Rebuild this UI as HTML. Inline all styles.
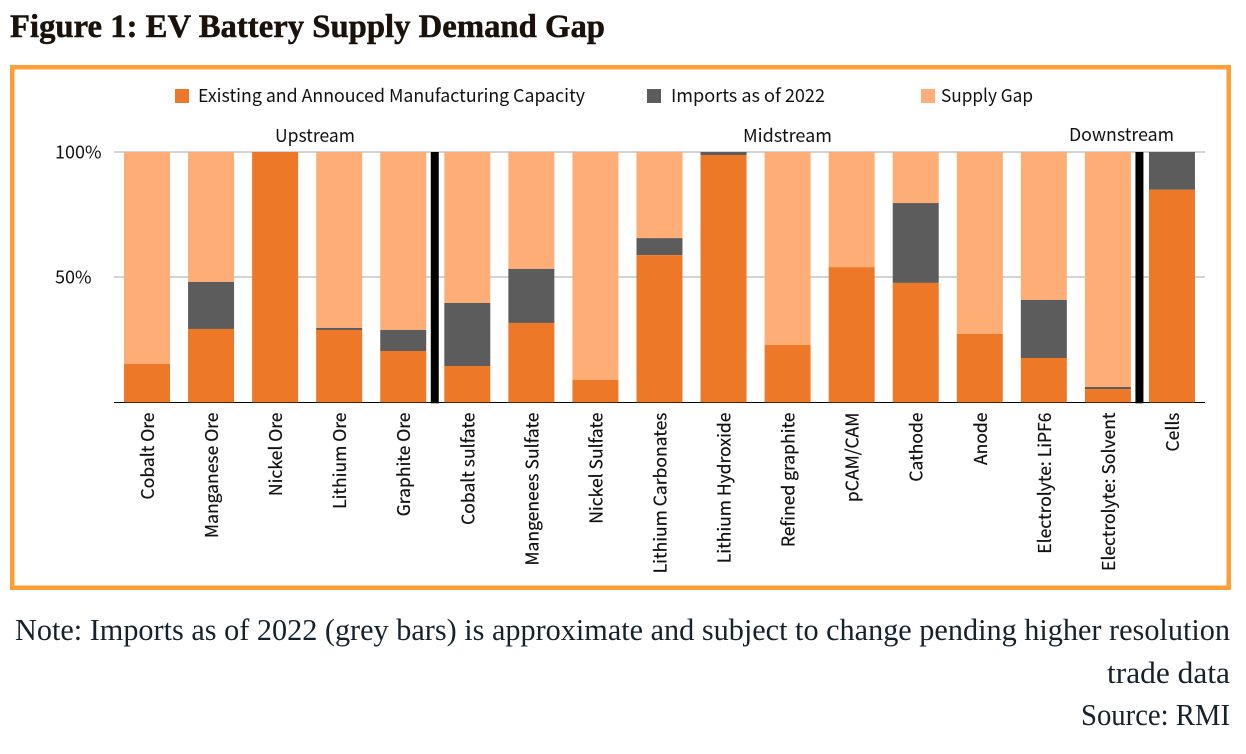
<!DOCTYPE html>
<html lang="en">
<head>
<meta charset="utf-8">
<title>Figure 1: EV Battery Supply Demand Gap</title>
<style>
html,body{margin:0;padding:0;background:#fff;width:1246px;height:754px;overflow:hidden}
svg{display:block}
.ui{font-family:"Noto Sans CJK JP","Liberation Sans",sans-serif;font-size:18px;fill:#111}
.axis-label{font-size:17.5px;stroke:#111;stroke-width:.2px}
.note{font-family:"Liberation Serif",serif;font-size:31px;fill:#16222b}
.title{font-family:"Liberation Serif",serif;font-weight:bold;font-size:33px;fill:#1a120a;stroke:#1a120a;stroke-width:.5px}
</style>
</head>
<body>
<svg id="chart" width="1246" height="754" viewBox="0 0 1246 754" xmlns="http://www.w3.org/2000/svg">
  <text class="title" x="10" y="37" textLength="595" lengthAdjust="spacingAndGlyphs">Figure 1: EV Battery Supply Demand Gap</text>
  <rect x="12.25" y="67.25" width="1216.5" height="520.5" fill="#fff" stroke="#FF9E35" stroke-width="4.5"/>

  <rect x="175" y="89" width="14" height="14" fill="#ED7828"/>
  <text class="ui" x="198" y="102" textLength="387" lengthAdjust="spacingAndGlyphs">Existing and Annouced Manufacturing Capacity</text>
  <rect x="647" y="89" width="14" height="14" fill="#5C5C5C"/>
  <text class="ui" x="671" y="102" textLength="154" lengthAdjust="spacingAndGlyphs">Imports as of 2022</text>
  <rect x="921" y="89" width="14" height="14" fill="#FFAD76"/>
  <text class="ui" x="941" y="102" textLength="92" lengthAdjust="spacingAndGlyphs">Supply Gap</text>

  <text class="ui" x="275" y="142" textLength="80" lengthAdjust="spacingAndGlyphs">Upstream</text>
  <text class="ui" x="743" y="142" textLength="89" lengthAdjust="spacingAndGlyphs">Midstream</text>
  <text class="ui" x="1069" y="141" textLength="105" lengthAdjust="spacingAndGlyphs">Downstream</text>

  <g id="plot"></g>

  <text class="note" x="1230" y="640" text-anchor="end" textLength="1215" lengthAdjust="spacingAndGlyphs">Note: Imports as of 2022 (grey bars) is approximate and subject to change pending higher resolution</text>
  <text class="note" x="1230" y="683" text-anchor="end" textLength="123" lengthAdjust="spacingAndGlyphs">trade data</text>
  <text class="note" x="1230" y="725" text-anchor="end" textLength="149" lengthAdjust="spacingAndGlyphs">Source: RMI</text>
</svg>
<script>
const categories = ["Cobalt Ore","Manganese Ore","Nickel Ore","Lithium Ore","Graphite Ore","Cobalt sulfate","Mangenees Sulfate","Nickel Sulfate","Lithium Carbonates","Lithium Hydroxide","Refined graphite","pCAM/CAM","Cathode","Anode","Electrolyte: LiPF6","Electrolyte: Solvent","Cells"];
const capacity = [15.3,29.3,100,28.9,20.5,14.5,31.7,8.9,58.8,98.8,22.9,54,47.7,27.3,17.7,5.3,84.9];
const imports = [0,18.8,0,0.8,8.4,25.2,21.6,0,6.8,1.2,0,0,31.9,0,23.2,0.8,15.1];
const yTicks = [100,50];
const yTickLabels = ["100%","50%"];
const sectionBreaks = ["Graphite Ore","Electrolyte: Solvent"];

const NS = "http://www.w3.org/2000/svg";
const plot = document.getElementById("plot");
const plotLeft = 114, plotRight = 1205, firstCenter = 147, step = 64.06, barWidth = 46;
const yZero = 402.3, yFull = 152;

function xCenter(i){ return firstCenter + i * step; }
function yScale(v){ return yZero - (yZero - yFull) * v / 100; }
function slug(s){ return s.toLowerCase().replace(/[^a-z0-9]+/g, "-"); }
function make(tag, attrs, text){
  const el = document.createElementNS(NS, tag);
  for (const k in attrs) el.setAttribute(k, attrs[k]);
  if (text !== undefined) el.textContent = text;
  plot.appendChild(el);
  return el;
}

yTicks.forEach(function(t, i){
  const y = yScale(t);
  const grid = make("line", {x1: plotLeft, x2: plotRight, y1: y, y2: y, stroke: "#A8A8A8", "stroke-width": 1, "shape-rendering": "crispEdges"});
  
  
  const lab = make("text", {x: 55, y: y + 6.5, "class": "ui"}, yTickLabels[i]);
  
  
});

const axis = make("line", {x1: plotLeft, x2: plotRight, y1: yZero, y2: yZero, stroke: "#000", "stroke-width": 1, "shape-rendering": "crispEdges"});



categories.forEach(function(cat, i){
  const x = xCenter(i) - barWidth / 2;
  const cap = capacity[i];
  const imp = imports[i];
  const top = cap + imp;

  const gapBar = make("rect", {x: x, width: barWidth, y: yScale(100), height: yScale(top) - yScale(100), fill: "#FFAD76"});
  
  

  const impBar = make("rect", {x: x, width: barWidth, y: yScale(top), height: yScale(cap) - yScale(top), fill: "#5C5C5C"});
  
  

  const capBar = make("rect", {x: x, width: barWidth, y: yScale(cap), height: yScale(0) - yScale(cap), fill: "#ED7828"});
  
  

  const tx = xCenter(i) + 7;
  const label = make("text", {x: tx, y: 412.5, "class": "ui axis-label", "text-anchor": "end", transform: "rotate(-90 " + tx + " 412.5)"}, cat);
  
  
});

sectionBreaks.forEach(function(name){
  const i = categories.indexOf(name);
  const mid = (xCenter(i) + xCenter(i + 1)) / 2 - 0.5;
  const divider = make("rect", {x: mid - 4, width: 8, y: yFull, height: yZero - yFull + 1, fill: "#000"});
  
  
});
</script>
</body>
</html>
